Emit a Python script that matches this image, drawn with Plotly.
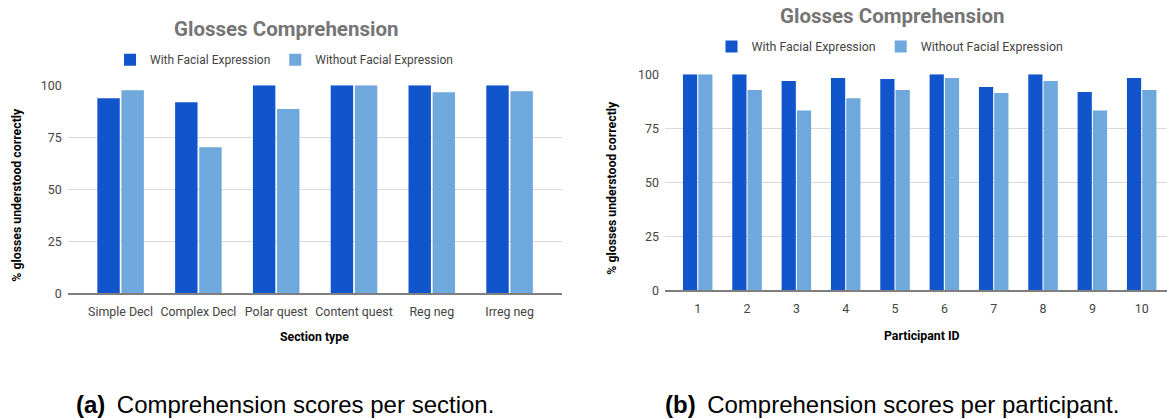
import plotly.graph_objects as go

# ---- data ----
sections = ["Simple Decl", "Complex Decl", "Polar quest", "Content quest", "Reg neg", "Irreg neg"]
section_with = [93.8, 91.8, 100, 100, 100, 100]
section_without = [97.6, 70.2, 88.6, 100, 96.6, 97.1]

participants = ["1", "2", "3", "4", "5", "6", "7", "8", "9", "10"]
participant_with = [100, 100, 96.9, 98.3, 97.8, 100, 94.1, 100, 91.8, 98.3]
participant_without = [100, 92.7, 83.2, 88.9, 92.7, 98.3, 91.4, 96.9, 83.2, 92.7]

series_names = ["With Facial Expression", "Without Facial Expression"]
y_ticks = [0, 25, 50, 75, 100]

C_WITH = "#1155cc"
C_WITHOUT = "#6fa8dc"
W, H = 1167, 419

fig = go.Figure()

fig.add_trace(go.Bar(x=sections, y=section_with, name=series_names[0], marker_color=C_WITH,
                     xaxis="x", yaxis="y", legend="legend"))
fig.add_trace(go.Bar(x=sections, y=section_without, name=series_names[1], marker_color=C_WITHOUT,
                     xaxis="x", yaxis="y", legend="legend"))
fig.add_trace(go.Bar(x=participants, y=participant_with, name=series_names[0], marker_color=C_WITH,
                     xaxis="x2", yaxis="y2", legend="legend2"))
fig.add_trace(go.Bar(x=participants, y=participant_without, name=series_names[1], marker_color=C_WITHOUT,
                     xaxis="x2", yaxis="y2", legend="legend2"))

fig.update_traces(marker_line_width=0, hoverinfo="skip")

tick_font = dict(family="Roboto, Arial, sans-serif", size=12.4, color="#444444")
grid_col = "#d9d9d9"
base_col = "#7f7f7f"

def px_x(p):
    return p / W

def px_y(p):
    return 1 - p / H

common_x = dict(type="category", showgrid=False, zeroline=False, showline=True,
                linecolor=base_col, linewidth=2, ticks="", tickfont=tick_font,
                ticklabelstandoff=6, fixedrange=True, automargin=False)
common_y = dict(range=[0, 100], tickvals=y_ticks, showgrid=True, gridcolor=grid_col,
                gridwidth=1, zeroline=False, showline=False, ticks="", tickfont=tick_font,
                ticklabelstandoff=5, fixedrange=True, automargin=False)

fig.update_layout(
    width=W, height=H,
    margin=dict(l=0, r=0, t=0, b=0, pad=0, autoexpand=False),
    paper_bgcolor="white", plot_bgcolor="white",
    barmode="group", bargap=0.38, bargroupgap=0.07,
    xaxis=dict(common_x, domain=[px_x(67.7), px_x(561.7)], range=[-0.68, 5.67], anchor="y"),
    yaxis=dict(common_y, domain=[px_y(293.3), px_y(85.3)], anchor="x"),
    xaxis2=dict(common_x, domain=[px_x(665), 1.0], range=[-0.663, 9.513], anchor="y2"),
    yaxis2=dict(common_y, domain=[px_y(290.3), px_y(74.3)], anchor="x2"),
    legend=dict(orientation="h", x=px_x(284), y=px_y(59.8), xanchor="center", yanchor="middle",
                font=dict(family="Roboto, Arial, sans-serif", size=12, color="#444444"),
                bgcolor="rgba(0,0,0,0)", itemwidth=30, itemclick=False, itemdoubleclick=False),
    legend2=dict(orientation="h", x=px_x(890), y=px_y(47), xanchor="center", yanchor="middle",
                 font=dict(family="Roboto, Arial, sans-serif", size=12.4, color="#444444"),
                 bgcolor="rgba(0,0,0,0)", itemwidth=30, itemclick=False, itemdoubleclick=False),
    showlegend=True,
)

title_font = dict(family="Roboto, Arial, sans-serif", size=20.5, color="#757575")
axis_title_font = dict(family="Roboto, Arial, sans-serif", size=12.3, color="#000000")
cap_font = dict(family="Liberation Sans, Arial, Helvetica, sans-serif", size=24, color="#000000")

annotations = [
    dict(text="<b>Glosses Comprehension</b>", x=px_x(286), y=px_y(29.3), font=title_font),
    dict(text="<b>Glosses Comprehension</b>", x=px_x(891.8), y=px_y(15.7), font=title_font),
    dict(text="<b>Section type</b>", x=px_x(314.5), y=px_y(337.3), font=axis_title_font),
    dict(text="<b>Participant ID</b>", x=px_x(922), y=px_y(336), font=axis_title_font),
    dict(text="<b>% glosses understood correctly</b>", x=px_x(16.7), y=px_y(195), textangle=-90,
         font=axis_title_font),
    dict(text="<b>% glosses understood correctly</b>", x=px_x(611.7), y=px_y(188), textangle=-90,
         font=axis_title_font),
    dict(text="<b>(a)</b>\u2009 Comprehension scores per section.", x=px_x(285.3), y=px_y(404),
         font=cap_font),
    dict(text="<b>(b)</b>\u2009 Comprehension scores per participant.", x=px_x(892), y=px_y(404),
         font=cap_font),
]
for a in annotations:
    a.update(xref="paper", yref="paper", showarrow=False, xanchor="center", yanchor="middle")
fig.update_layout(annotations=annotations)

fig.write_html(
    "out.html",
    config={"displayModeBar": False},
    post_script="document.body.style.margin='0';",
)
